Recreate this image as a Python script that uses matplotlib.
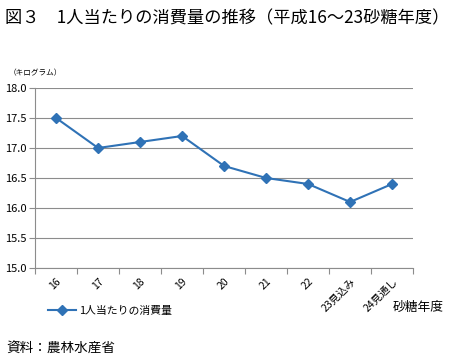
import matplotlib.pyplot as plt
import numpy as np

plt.rcParams['font.family'] = ['Noto Sans CJK JP', 'DejaVu Sans']

# data
years = ["16", "17", "18", "19", "20", "21", "22", "23見込み", "24見通し"]
consumption = [17.5, 17.0, 17.1, 17.2, 16.7, 16.5, 16.4, 16.1, 16.4]
yticks = [15.0, 15.5, 16.0, 16.5, 17.0, 17.5, 18.0]

line_color = "#2F72B6"
grid_color = "#8C8C8C"

fig = plt.figure(figsize=(4.5, 3.59), dpi=100)
ax = fig.add_axes([0.078, 0.2535, 0.84, 0.5014])

x = np.arange(len(years))
ax.plot(x, consumption, color=line_color, lw=1.5, marker="D", ms=5,
        label="1人当たりの消費量", zorder=3)

ax.set_xlim(-0.5, len(years) - 0.5)
ax.set_ylim(15.0, 18.0)
ax.set_yticks(yticks)
ax.set_yticklabels([f"{v:.1f}" for v in yticks], fontsize=8)
ax.yaxis.grid(True, color=grid_color, lw=0.8)
ax.set_axisbelow(True)

# category ticks between the points, labels at the points
ax.set_xticks(np.arange(-0.5, len(years)), minor=False)
ax.set_xticklabels([])
ax.set_xticks(x, minor=True)
ax.set_xticklabels(years, minor=True, rotation=45, ha="right",
                   rotation_mode="anchor", fontsize=7.5)
ax.tick_params(axis="x", which="minor", length=0, pad=6)
ax.tick_params(axis="x", which="major", length=4, color=grid_color)
ax.tick_params(axis="y", length=4, color=grid_color, pad=2)

for s in ["top", "right"]:
    ax.spines[s].set_visible(False)
for s in ["left", "bottom"]:
    ax.spines[s].set_color(grid_color)
    ax.spines[s].set_linewidth(0.8)

fig.text(0.011, 0.948, "図３　1人当たりの消費量の推移（平成16～23砂糖年度）",
         fontsize=12.4, va="center", ha="left")
fig.text(0.02, 0.797, "（キログラム）", fontsize=5.5, va="center", ha="left")
fig.text(0.985, 0.143, "砂糖年度", fontsize=9.2, va="center", ha="right")
fig.text(0.015, 0.030, "資料：農林水産省", fontsize=9.8, va="center", ha="left")

fig.legend(loc="center left", bbox_to_anchor=(0.085, 0.133), frameon=False,
           fontsize=7.8, handlelength=2.6, handletextpad=0.3)

fig.savefig("out.png", dpi=100)
